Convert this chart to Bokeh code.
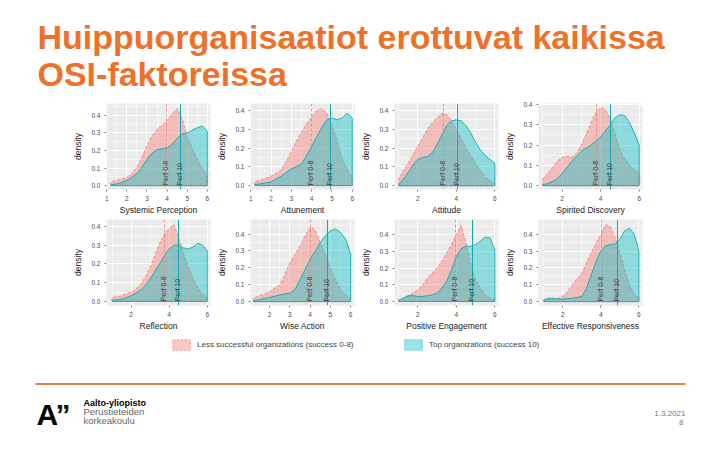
import math
from bokeh.plotting import figure
from bokeh.models import (Range1d, FixedTicker, Legend, LegendItem, Spacer,
                          PrintfTickFormatter)
from bokeh.layouts import column, row
from bokeh.embed import file_html
from bokeh.resources import INLINE
from bokeh.core.properties import value

# ---------------- data ----------------
TITLE_LINES = ["Huippuorganisaatiot erottuvat kaikissa", "OSI-faktoreissa"]
LOW_LABEL = "Less successful organizations (success 0-8)"
TOP_LABEL = "Top organizations (success 10)"
LOW_TAG = "Perf 0-8"
TOP_TAG = "Perf 10"

FACTORS = ["Systemic Perception", "Attunement", "Attitude", "Spirited Discovery",
           "Reflection", "Wise Action", "Positive Engagement", "Effective Responsiveness"]

X_FULL = [1.0, 1.25, 1.5, 1.75, 2.0, 2.25, 2.5, 2.75, 3.0, 3.25, 3.5, 3.75,
          4.0, 4.25, 4.5, 4.75, 5.0, 5.25, 5.5, 5.75, 6.0]
X_LATE = [1.2, 1.5, 1.75, 2.0, 2.25, 2.5, 2.75, 3.0, 3.25, 3.5, 3.75,
          4.0, 4.25, 4.5, 4.75, 5.0, 5.25, 5.5, 5.75, 6.0]

SP_LOW = [0.02, 0.03, 0.037, 0.048, 0.07, 0.105, 0.16, 0.23, 0.285, 0.32, 0.345,
          0.37, 0.41, 0.44, 0.38, 0.28, 0.21, 0.15, 0.10, 0.045]
SP_TOP = [0.005, 0.01, 0.018, 0.03, 0.048, 0.07, 0.105, 0.15, 0.185, 0.205, 0.21,
          0.215, 0.235, 0.27, 0.295, 0.30, 0.315, 0.33, 0.34, 0.31]
AT_LOW = [0.02, 0.03, 0.04, 0.05, 0.065, 0.085, 0.13, 0.18, 0.235, 0.285, 0.33,
          0.365, 0.40, 0.41, 0.385, 0.32, 0.24, 0.145, 0.085, 0.045]
AT_TOP = [0.005, 0.01, 0.015, 0.02, 0.035, 0.05, 0.07, 0.09, 0.10, 0.115, 0.16,
          0.21, 0.26, 0.31, 0.35, 0.36, 0.35, 0.36, 0.385, 0.36]
ATT_LOW = [0.04, 0.08, 0.12, 0.165, 0.21, 0.255, 0.30, 0.335, 0.36, 0.385, 0.38,
           0.345, 0.30, 0.25, 0.20, 0.16, 0.12, 0.08, 0.05, 0.025, 0.01]
ATT_TOP = [0.005, 0.035, 0.07, 0.11, 0.14, 0.15, 0.155, 0.175, 0.22, 0.27, 0.32,
           0.345, 0.35, 0.345, 0.32, 0.28, 0.23, 0.19, 0.16, 0.14, 0.12]
SD_LOW = [0.035, 0.06, 0.09, 0.12, 0.14, 0.145, 0.14, 0.16, 0.2, 0.255, 0.31,
          0.36, 0.385, 0.375, 0.33, 0.25, 0.18, 0.13, 0.1, 0.08, 0.06]
SD_TOP = [0.005, 0.01, 0.02, 0.035, 0.06, 0.09, 0.12, 0.145, 0.17, 0.185, 0.2,
          0.22, 0.24, 0.27, 0.3, 0.335, 0.35, 0.345, 0.31, 0.26, 0.2]
RF_LOW = [0.02, 0.025, 0.03, 0.04, 0.05, 0.065, 0.09, 0.13, 0.18, 0.245, 0.31,
          0.36, 0.39, 0.41, 0.34, 0.255, 0.185, 0.12, 0.07, 0.04, 0.02]
RF_TOP = [0.005, 0.008, 0.012, 0.02, 0.03, 0.045, 0.06, 0.085, 0.12, 0.16, 0.2,
          0.245, 0.28, 0.30, 0.30, 0.285, 0.28, 0.29, 0.31, 0.30, 0.27]
WA_LOW = [0.02, 0.035, 0.045, 0.06, 0.08, 0.1, 0.16, 0.23, 0.28, 0.33, 0.39,
          0.44, 0.425, 0.35, 0.28, 0.2, 0.13, 0.07, 0.04, 0.02]
WA_TOP = [0.005, 0.012, 0.018, 0.025, 0.032, 0.04, 0.046, 0.05, 0.07, 0.13, 0.19,
          0.25, 0.30, 0.35, 0.39, 0.42, 0.43, 0.41, 0.37, 0.28]
PE_LOW = [0.01, 0.02, 0.03, 0.05, 0.07, 0.1, 0.14, 0.17, 0.2, 0.24, 0.29,
          0.34, 0.40, 0.455, 0.35, 0.22, 0.13, 0.08, 0.04, 0.02, 0.01]
PE_TOP = [0.005, 0.02, 0.035, 0.035, 0.03, 0.03, 0.035, 0.04, 0.05, 0.08, 0.12,
          0.19, 0.27, 0.315, 0.33, 0.33, 0.34, 0.36, 0.385, 0.38, 0.31]
ER_LOW = [0.01, 0.012, 0.015, 0.02, 0.03, 0.06, 0.1, 0.135, 0.17, 0.23, 0.29,
          0.345, 0.40, 0.455, 0.445, 0.38, 0.29, 0.19, 0.1, 0.05, 0.02]
ER_TOP = [0.01, 0.02, 0.02, 0.015, 0.015, 0.018, 0.02, 0.025, 0.03, 0.08, 0.16,
          0.24, 0.3, 0.33, 0.34, 0.34, 0.37, 0.42, 0.435, 0.4, 0.3]

MEAN_LOW = [3.95, 4.0, 3.31, 3.8, 3.74, 4.0, 3.97, 4.01]
MEAN_TOP = [4.66, 4.91, 4.05, 4.5, 4.5, 4.85, 4.84, 4.86]

DATE_TEXT = "1.3.2021"
PAGE_NO = "8"
LOGO_LINES = ["Aalto-yliopisto", "Perustieteiden", "korkeakoulu"]

# ---------------- style ----------------
FONT = "Liberation Sans"
ORANGE = "#EF7029"
PINK = "#F8766D"
TEAL = "#00BFC4"
PANEL_BG = "#EBEBEB"

X_GRIDS = [X_LATE, X_LATE, X_FULL, X_FULL, X_FULL, X_LATE, X_FULL, X_FULL]
LOWS = [SP_LOW, AT_LOW, ATT_LOW, SD_LOW, RF_LOW, WA_LOW, PE_LOW, ER_LOW]
TOPS = [SP_TOP, AT_TOP, ATT_TOP, SD_TOP, RF_TOP, WA_TOP, PE_TOP, ER_TOP]
X_RANGES = [(0.985, 6.16), (0.986, 6.11), (0.79, 6.19), (0.775, 6.17),
            (0.71, 6.17), (1.054, 6.19), (0.79, 6.19), (0.723, 6.19)]
Y_RANGES = [(-0.022, 0.468), (-0.021, 0.437), (-0.02, 0.437), (-0.019, 0.405),
            (-0.022, 0.437), (-0.023, 0.486), (-0.024, 0.49), (-0.023, 0.487)]
TICKS_ALL = [1, 2, 3, 4, 5, 6]
TICKS_EVEN = [2, 4, 6]
X_TICKS = [TICKS_ALL, TICKS_ALL, TICKS_EVEN, TICKS_EVEN,
           TICKS_EVEN, [2, 3, 4, 5, 6], TICKS_EVEN, TICKS_EVEN]


def minor_between(ticks):
    step = ticks[1] - ticks[0]
    return [t - step / 2 for t in ticks] + [ticks[-1] + step / 2]


def make_panel(i, first_row):
    xr, yr = X_RANGES[i], Y_RANGES[i]
    p = figure(width=144, height=117, output_backend="svg", toolbar_location=None,
               x_range=Range1d(*xr), y_range=Range1d(*yr),
               min_border_left=33, min_border_right=4,
               min_border_top=3 if first_row else 2,
               min_border_bottom=28 if first_row else 29)
    p.background_fill_color = PANEL_BG
    p.border_fill_color = "white"
    p.outline_line_color = None

    yt = [0.0, 0.1, 0.2, 0.3, 0.4]
    p.xaxis.ticker = FixedTicker(ticks=X_TICKS[i], minor_ticks=minor_between(X_TICKS[i]))
    p.yaxis.ticker = FixedTicker(ticks=yt, minor_ticks=minor_between(yt))
    p.xaxis.formatter = PrintfTickFormatter(format="%d")
    p.yaxis.formatter = PrintfTickFormatter(format="%.1f")
    p.grid.grid_line_color = "white"
    p.grid.grid_line_width = 1
    p.grid.minor_grid_line_color = "white"
    p.grid.minor_grid_line_width = 0.5

    for ax in (p.xaxis, p.yaxis):
        ax.axis_line_color = None
        ax.major_tick_line_color = "#333333"
        ax.major_tick_line_width = 0.6
        ax.major_tick_in = 0
        ax.major_tick_out = 2
        ax.minor_tick_line_color = None
        ax.major_label_text_font = FONT
        ax.major_label_text_font_size = "6.5px"
        ax.major_label_text_color = "#4D4D4D"
        ax.major_label_standoff = 2
        ax.axis_label_text_font = FONT
        ax.axis_label_text_font_size = "8.5px"
        ax.axis_label_text_font_style = "normal"
        ax.axis_label_text_color = "#1A1A1A"
    p.xaxis.axis_label = FACTORS[i]
    p.xaxis.axis_label_standoff = 1
    p.yaxis.axis_label = "density"
    p.yaxis.axis_label_standoff = 5

    xs = X_GRIDS[i]
    px = [xs[0]] + list(xs) + [xs[-1]]
    p.patch(px, [0] + list(LOWS[i]) + [0], fill_color=PINK, fill_alpha=0.4,
            line_color=PINK, line_width=0.8, line_dash="3 2")
    p.patch(px, [0] + list(TOPS[i]) + [0], fill_color=TEAL, fill_alpha=0.4,
            line_color="#13A9AD", line_width=0.9)

    p.vspan(x=[MEAN_LOW[i]], line_color="#E8877F", line_width=0.9, line_dash="3 2")
    p.vspan(x=[MEAN_TOP[i]], line_color="#12AAB0", line_width=1)

    p.text(x=[MEAN_LOW[i], MEAN_TOP[i]], y=[0, 0], text=[LOW_TAG, TOP_TAG],
           angle=math.pi / 2, text_font=value(FONT), text_font_size="7px",
           text_color="#3A3A3A", text_align="left", text_baseline="middle",
           x_offset=-1)
    return p


def blank(width, height, xr, yr):
    f = figure(width=width, height=height, output_backend="svg", toolbar_location=None,
               x_range=Range1d(*xr), y_range=Range1d(*yr),
               x_axis_location=None, y_axis_location=None, min_border=0)
    f.grid.visible = False
    f.outline_line_color = None
    f.background_fill_color = "white"
    f.border_fill_color = "white"
    return f


# ---------------- title ----------------
title = blank(720, 100, (0, 720), (100, 0))
title.text(x=[37, 37], y=[36, 73], text=TITLE_LINES, text_font=value(FONT),
           text_font_style="bold", text_font_size="34px", text_color=ORANGE,
           text_baseline="middle", text_align="left")

panels = [make_panel(i, i < 4) for i in range(8)]
row1 = row(Spacer(width=70, height=117), *panels[:4])
row2 = row(Spacer(width=70, height=117), *panels[4:])

# ---------------- legend ----------------
lg = blank(720, 28, (0, 1), (0, 1))
r_low = lg.patch(x=[5, 6, 6], y=[5, 5, 6], fill_color=PINK, fill_alpha=0.4,
                 line_color=PINK, line_width=0.8, line_dash="2 2")
r_top = lg.patch(x=[5, 6, 6], y=[5, 5, 6], fill_color=TEAL, fill_alpha=0.4,
                 line_color=TEAL, line_alpha=0.5, line_width=0.8)
for label, rend, loc in ((LOW_LABEL, r_low, (170, 11)), (TOP_LABEL, r_top, (402, 11))):
    leg = Legend(items=[LegendItem(label=label, renderers=[rend])], location=loc,
                 glyph_width=22, glyph_height=13, label_standoff=5, padding=0,
                 margin=0, spacing=0, label_height=13, border_line_color=None,
                 background_fill_alpha=0, label_text_font=FONT,
                 label_text_font_size="8px", label_text_color="#444444")
    lg.add_layout(leg)

# ---------------- footer ----------------
foot = blank(720, 88, (0, 720), (88, 0))
foot.line(x=[35, 685], y=[21.5, 21.5], line_color="#E0894E", line_width=2)
foot.text(x=[36], y=[52], text=["A"], text_font=value(FONT), text_font_style="bold",
          text_font_size="30px", text_color="black", text_baseline="middle")
foot.text(x=[55], y=[52], text=["\u201d"], text_font=value(FONT), text_font_style="bold",
          text_font_size="30px", text_color="#111111", text_baseline="middle")
foot.text(x=[83], y=[40], text=[LOGO_LINES[0]], text_font=value(FONT),
          text_font_style="bold", text_font_size="9px", text_color="black",
          text_baseline="middle")
foot.text(x=[83, 83], y=[49, 58], text=LOGO_LINES[1:], text_font=value(FONT),
          text_font_size="9.5px", text_color="#666666", text_baseline="middle")
foot.text(x=[685, 683], y=[51, 60], text=[DATE_TEXT, PAGE_NO], text_font=value(FONT),
          text_font_size="8px", text_color="#777777", text_align="right",
          text_baseline="middle")

page = column(title, row1, row2, lg, foot, spacing=0)

with open("out.html", "w") as fh:
    fh.write(file_html(page, INLINE))
